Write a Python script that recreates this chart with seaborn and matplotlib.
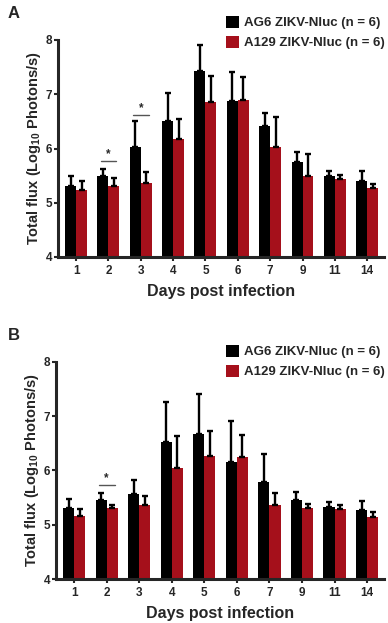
"""
Bioluminescence of ZIKV-Nluc in AG6 and A129 mice.
Two bar panels (A, B) of total flux by day post infection.
"""

import matplotlib.pyplot as plt
from matplotlib.patches import Patch
import numpy as np
import pandas as pd
import seaborn as sns

days = ["1", "2", "3", "4", "5", "6", "7", "9", "11", "14"]
groups = ["AG6 ZIKV-Nluc (n = 6)", "A129 ZIKV-Nluc (n = 6)"]
colors = ["#000000", "#A5101B"]

# panel A: bar height and top of the error bar (log10 photons/s)
a_ag6 = [5.31, 5.50, 6.02, 6.50, 7.43, 6.88, 6.42, 5.76, 5.49, 5.41]
a_ag6_top = [5.49, 5.62, 6.51, 7.03, 7.91, 7.41, 6.65, 5.93, 5.58, 5.58]
a_a129 = [5.23, 5.30, 5.37, 6.17, 6.85, 6.90, 6.02, 5.49, 5.44, 5.28]
a_a129_top = [5.40, 5.45, 5.57, 6.55, 7.33, 7.31, 6.58, 5.89, 5.52, 5.34]
a_sig_days = ["2", "3"]
a_sig_level = [5.77, 6.62]

# panel B
b_ag6 = [5.31, 5.45, 5.57, 6.52, 6.67, 6.16, 5.78, 5.46, 5.33, 5.27]
b_ag6_top = [5.47, 5.58, 5.82, 7.26, 7.41, 6.91, 6.31, 5.61, 5.42, 5.44]
b_a129 = [5.16, 5.31, 5.37, 6.04, 6.26, 6.25, 5.37, 5.31, 5.29, 5.14]
b_a129_top = [5.29, 5.36, 5.53, 6.64, 6.73, 6.65, 5.59, 5.39, 5.37, 5.23]
b_sig_days = ["2"]
b_sig_level = [5.73]


def long_table(ag6, a129):
    """Long-form table for seaborn."""
    return pd.DataFrame({
        "day": days * 2,
        "value": ag6 + a129,
        "group": [groups[0]] * len(days) + [groups[1]] * len(days),
    })


def draw_panel(ax, ag6, ag6_top, a129, a129_top, sig_days, sig_level):
    df = long_table(ag6, a129)
    sns.barplot(
        data=df, x="day", y="value", hue="group",
        order=days, hue_order=groups, palette=colors,
        width=0.68, gap=0, errorbar=None, legend=False,
        linewidth=0, saturation=1, ax=ax
    )

    # upward-only error bars on top of each bar
    for cont, means, tops in zip(ax.containers, [ag6, a129],
                                 [ag6_top, a129_top]):
        xs = [b.get_x() + b.get_width() / 2 for b in cont]
        up = np.array(tops) - np.array(means)
        ax.errorbar(xs, means, yerr=[np.zeros(len(up)), up], fmt="none",
                    ecolor="black", elinewidth=1.7, capsize=2.2,
                    capthick=1.7, zorder=1)

    # significance markers
    for d, lvl in zip(sig_days, sig_level):
        i = days.index(d)
        ax.plot([i - 0.24, i + 0.24], [lvl, lvl], color="#555555", lw=1.0)
        ax.text(i, lvl + 0.01, "*", ha="center", va="bottom",
                fontsize=8.5, fontweight="bold")

    ax.set_ylim(4, 8)
    ax.set_xlim(-0.56, 9.52)
    ax.set_yticks([4, 5, 6, 7, 8])
    ax.set_xlabel("Days post infection", fontsize=11.5, fontweight="bold",
                  labelpad=5)
    ax.set_ylabel("Total flux (Log$_{10}$ Photons/s)", fontsize=10.5,
                  fontweight="bold", labelpad=2)
    for lab in ax.get_xticklabels() + ax.get_yticklabels():
        lab.set_fontweight("bold")
    ax.tick_params(axis="x", length=3, width=1.5, labelsize=8.5, pad=3)
    ax.tick_params(axis="y", length=3, width=1.5, labelsize=8.5, pad=1)
    sns.despine(ax=ax)
    ax.spines["left"].set_linewidth(2.2)
    ax.spines["bottom"].set_linewidth(2.2)


def main():
    sns.set_style("ticks")
    plt.rcParams["font.family"] = ["Liberation Sans", "DejaVu Sans"]
    plt.rcParams["mathtext.fontset"] = "custom"
    plt.rcParams["mathtext.rm"] = "Liberation Sans:bold"
    plt.rcParams["mathtext.default"] = "rm"

    fig = plt.figure(figsize=(3.88, 6.23), dpi=100)
    ax_a = fig.add_axes([58 / 388, 1 - 257 / 623, 326 / 388, 217 / 623])
    ax_b = fig.add_axes([56 / 388, 1 - 579 / 623, 328 / 388, 217 / 623])

    draw_panel(ax_a, a_ag6, a_ag6_top, a_a129, a_a129_top,
               a_sig_days, a_sig_level)
    draw_panel(ax_b, b_ag6, b_ag6_top, b_a129, b_a129_top,
               b_sig_days, b_sig_level)

    handles = [Patch(facecolor=c, edgecolor="none") for c in colors]
    for ax, y in [(ax_a, 1 - 16 / 623), (ax_b, 1 - 345 / 623)]:
        ax.legend(handles, groups, loc="upper right",
                  bbox_to_anchor=(1 - 3 / 388, y),
                  bbox_transform=fig.transFigure, frameon=False,
                  handlelength=1.0, handleheight=1.0, handletextpad=0.4,
                  labelspacing=0.5, borderaxespad=0, borderpad=0,
                  prop={"weight": "bold", "size": 9.5})

    fig.text(8 / 388, 1 - 13 / 623, "A", fontsize=12, fontweight="bold",
             va="center", ha="left")
    fig.text(8 / 388, 1 - 336 / 623, "B", fontsize=12, fontweight="bold",
             va="center", ha="left")

    fig.savefig("out.png", dpi=100)
    plt.close(fig)


if __name__ == "__main__":
    main()
